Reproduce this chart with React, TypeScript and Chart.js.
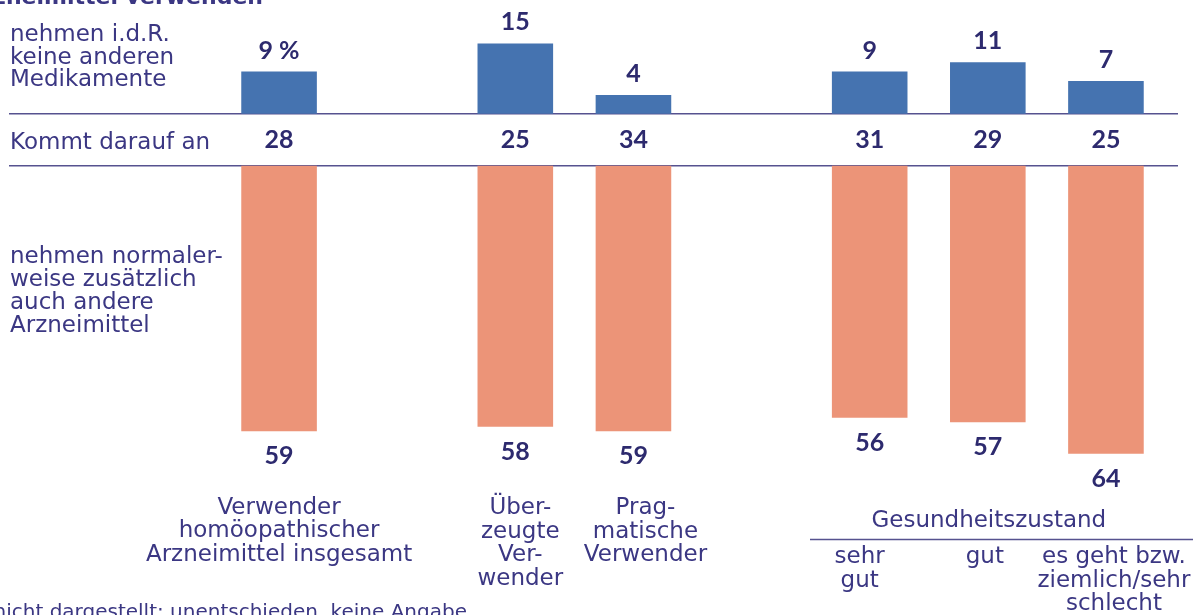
import { useEffect, useRef } from 'react';
import { Chart, registerables } from 'chart.js';

Chart.register(...registerables);

// ---- data ----
const categories = [
  'Verwender homöopathischer Arzneimittel insgesamt',
  '',
  'Überzeugte Verwender',
  'Pragmatische Verwender',
  '',
  'sehr gut',
  'gut',
  'es geht bzw. ziemlich/sehr schlecht',
];
const keineAnderen = [9, null, 15, 4, null, 9, 11, 7];
const kommtDaraufAn = [28, null, 25, 34, null, 31, 29, 25];
const zusaetzlich = [59, null, 58, 59, null, 56, 57, 64];

const categoryLines = [
  ['Verwender', 'homöopathischer', 'Arzneimittel insgesamt'],
  [],
  ['Über-', 'zeugte', 'Ver-', 'wender'],
  ['Prag-', 'matische', 'Verwender'],
  [],
  ['sehr', 'gut'],
  ['gut'],
  ['es geht bzw.', 'ziemlich/sehr', 'schlecht'],
];
const groupTitle = 'Gesundheitszustand';
const rowLabelTop = ['nehmen i.d.R.', 'keine anderen', 'Medikamente'];
const rowLabelMid = 'Kommt darauf an';
const rowLabelBottom = ['nehmen normaler-', 'weise zusätzlich', 'auch andere', 'Arzneimittel'];
const titleText = 'Arzneimittel verwenden';
const noteText = 'nicht dargestellt: unentschieden, keine Angabe';

// ---- layout / style ----
const BLUE = 'rgb(69,115,176)';
const ORANGE = 'rgb(236,148,120)';
const TEXT = '#3b3783';
const VALUE = '#2d2a6e';
const LINE = '#56528f';
const LABEL_FONT = '23px "DejaVu Sans"';
const VALUE_FONT = 'bold 25px Lato';
const labelDx = [0, 0, 5, 12, 0, -10, -3, 8];
const labelTopY = [513.5, 0, 514, 514, 0, 563, 563, 563];

const labelPlugin = {
  id: 'customLabels',
  beforeDatasetsDraw(chart: any) {
    const ctx = chart.ctx;
    const lineTop = chart.scales.yTop.getPixelForValue(0);
    const lineBottom = chart.scales.yBottom.getPixelForValue(0);
    ctx.save();
    ctx.strokeStyle = LINE;
    ctx.lineWidth = 1.5;
    [lineTop, lineBottom].forEach((y) => {
      ctx.beginPath();
      ctx.moveTo(9, y);
      ctx.lineTo(1178, y);
      ctx.stroke();
    });
    ctx.restore();
  },
  afterDatasetsDraw(chart: any) {
    const ctx = chart.ctx;
    const lineTop = chart.scales.yTop.getPixelForValue(0);
    const lineBottom = chart.scales.yBottom.getPixelForValue(0);
    const metaTop = chart.getDatasetMeta(0);
    const metaBot = chart.getDatasetMeta(1);
    ctx.save();

    // values
    ctx.font = VALUE_FONT;
    ctx.fillStyle = VALUE;
    ctx.textAlign = 'center';
    ctx.textBaseline = 'alphabetic';
    keineAnderen.forEach((v, i) => {
      if (v == null) return;
      const el = metaTop.data[i];
      ctx.fillText(i === 0 ? `${v} %` : String(v), el.x, el.y - 13);
    });
    kommtDaraufAn.forEach((v, i) => {
      if (v == null) return;
      const el = metaTop.data[i];
      ctx.fillText(String(v), el.x, (lineTop + lineBottom) / 2 + 8.5);
    });
    zusaetzlich.forEach((v, i) => {
      if (v == null) return;
      const el = metaBot.data[i];
      ctx.fillText(String(v), el.x, el.y + 33);
    });

    // row labels
    ctx.font = LABEL_FONT;
    ctx.fillStyle = TEXT;
    ctx.textAlign = 'left';
    rowLabelTop.forEach((t, k) => ctx.fillText(t, 10, 41 + k * 22.7));
    ctx.fillText(rowLabelMid, 10, 149);
    rowLabelBottom.forEach((t, k) => ctx.fillText(t, 10, 263 + k * 22.9));

    // category labels
    ctx.textAlign = 'center';
    const xScale = chart.scales.x;
    categoryLines.forEach((lines, i) => {
      const x = xScale.getPixelForValue(i) + labelDx[i];
      lines.forEach((t, k) => ctx.fillText(t, x, labelTopY[i] + k * 23.6));
    });

    // group title + line
    const gx1 = xScale.getPixelForValue(5);
    const gx2 = xScale.getPixelForValue(7);
    ctx.fillText(groupTitle, (gx1 + gx2) / 2 + 1, 527);
    ctx.strokeStyle = LINE;
    ctx.lineWidth = 1.5;
    ctx.beginPath();
    ctx.moveTo(810, 539.5);
    ctx.lineTo(1193, 539.5);
    ctx.stroke();

    // cut-off title and note
    ctx.textAlign = 'right';
    ctx.font = 'bold 22px "DejaVu Sans"';
    ctx.fillText(titleText, 263, 4);
    ctx.font = '20px "DejaVu Sans"';
    ctx.fillText(noteText, 467, 618);

    ctx.restore();
  },
};

export default function App() {
  const ref = useRef<HTMLCanvasElement>(null);
  useEffect(() => {
    const canvas = ref.current!;
    const chart = new Chart(canvas, {
      type: 'bar',
      data: {
        labels: categories,
        datasets: [
          {
            label: 'nehmen i.d.R. keine anderen Medikamente',
            data: keineAnderen,
            backgroundColor: BLUE,
            yAxisID: 'yTop',
            grouped: false,
            barPercentage: 1,
            categoryPercentage: 0.64,
          } as any,
          {
            label: 'nehmen normalerweise zusätzlich auch andere Arzneimittel',
            data: zusaetzlich,
            backgroundColor: ORANGE,
            yAxisID: 'yBottom',
            grouped: false,
            barPercentage: 1,
            categoryPercentage: 0.64,
          } as any,
        ],
      },
      options: {
        responsive: false,
        animation: false,
        layout: { padding: { left: 220, right: 34, top: 0, bottom: 0 } },
        plugins: { legend: { display: false }, tooltip: { enabled: false } },
        scales: {
          x: { display: false, offset: true, grid: { display: false } },
          yTop: { display: false, min: -107.12, max: 24.29 },
          yBottom: { display: false, reverse: true, min: -36.82, max: 99.84 },
        },
      } as any,
      plugins: [labelPlugin],
    });
    return () => chart.destroy();
  }, []);
  return (
    <div style={{ position: 'fixed', left: 0, top: 0, width: 1199, height: 615, background: '#fff' }}>
      <canvas ref={ref} width={1199} height={615} style={{ display: 'block' }} />
    </div>
  );
}
